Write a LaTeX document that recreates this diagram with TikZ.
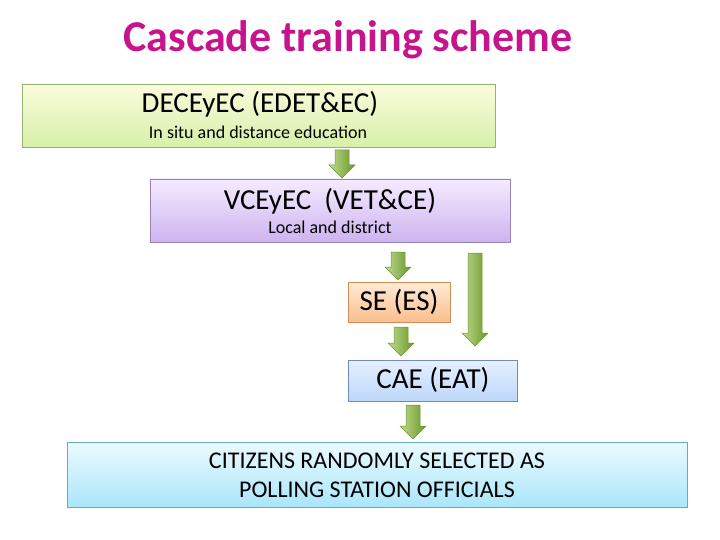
\documentclass[tikz,border=0pt]{standalone}
\usepackage{fontspec}
\setmainfont{Carlito}
\definecolor{mag}{RGB}{200,20,140}
\definecolor{agreen}{RGB}{150,195,70}
\definecolor{agreenD}{RGB}{105,150,40}
\newcommand{\downarrowblk}[3]{% x, ytop, ybottom
 \shade[left color=agreen!60!white, right color=agreenD, draw=agreenD, line width=0.5pt]
 (#1-7,#2) -- (#1+7,#2) -- (#1+7,#3-13) -- (#1+13,#3-13) -- (#1,#3) -- (#1-13,#3-13) -- (#1-7,#3-13) -- cycle;}
\begin{document}
\begin{tikzpicture}[x=1pt,y=-1pt]
\useasboundingbox (0,0) rectangle (720,540);
\node[text=mag, font=\bfseries\fontsize{44}{48}\selectfont] (title) at (348,40) {Cascade training scheme};
\shade[top color={rgb,255:red,250;green,252;blue,220}, bottom color={rgb,255:red,215;green,240;blue,170}] (22,84) rectangle (495,147);
\draw[draw={rgb,255:red,150;green,180;blue,110}] (22,84) rectangle (495,147);
\node[font=\fontsize{29}{32}\selectfont] (b1) at (260,104) {DECEyEC (EDET\&EC)};
\node[font=\fontsize{18}{21}\selectfont] (b1s) at (258,132) {In situ and distance education};

\shade[top color={rgb,255:red,245;green,235;blue,255}, bottom color={rgb,255:red,205;green,180;blue,240}] (150,179) rectangle (510,242);
\draw[draw={rgb,255:red,150;green,130;blue,180}] (150,179) rectangle (510,242);
\node[font=\fontsize{29}{32}\selectfont] (b2) at (330,201) {VCEyEC\ \ (VET\&CE)};
\node[font=\fontsize{18}{21}\selectfont] (b2s) at (330,227) {Local and district};

\shade[top color={rgb,255:red,255;green,235;blue,215}, bottom color={rgb,255:red,250;green,190;blue,140}] (348,282) rectangle (450,322);
\draw[draw={rgb,255:red,210;green,140;blue,90}] (348,282) rectangle (450,322);
\node[font=\fontsize{29}{32}\selectfont] (b3) at (399,302) {SE (ES)};

\shade[top color={rgb,255:red,230;green,240;blue,255}, bottom color={rgb,255:red,190;green,215;blue,250}] (348,360) rectangle (517,401);
\draw[draw={rgb,255:red,110;green,140;blue,190}] (348,360) rectangle (517,401);
\node[font=\fontsize{29}{32}\selectfont] (b4) at (433,380) {CAE (EAT)};

\shade[top color={rgb,255:red,235;green,250;blue,255}, bottom color={rgb,255:red,170;green,230;blue,250}] (67,442) rectangle (687,507);
\draw[draw={rgb,255:red,100;green,170;blue,200}] (67,442) rectangle (687,507);
\node[font=\fontsize{24}{29}\selectfont, align=center] (b5) at (377,475) {CITIZENS RANDOMLY SELECTED AS\\POLLING STATION OFFICIALS};
\downarrowblk{342}{150}{178}
\downarrowblk{398}{252}{280}
\downarrowblk{475}{253}{346}
\downarrowblk{401}{327}{356}
\downarrowblk{413}{405}{439}
\end{tikzpicture}
\end{document}
